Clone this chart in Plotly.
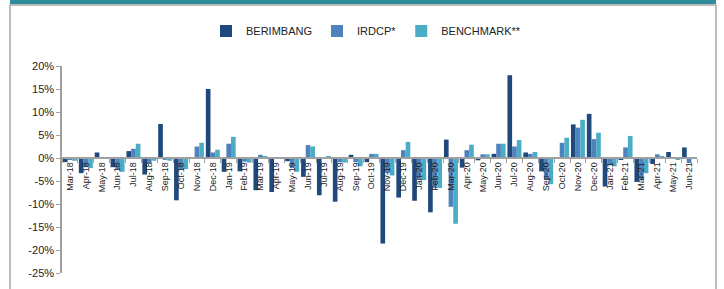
import plotly.graph_objects as go

months = ["Mar-18","Apr-18","May-18","Jun-18","Jul-18","Aug-18","Sep-18","Oct-18","Nov-18","Dec-18",
          "Jan-19","Feb-19","Mar-19","Apr-19","May-19","Jun-19","Jul-19","Aug-19","Sep-19","Oct-19",
          "Nov-19","Dec-19","Jan-20","Feb-20","Mar-20","Apr-20","May-20","Jun-20","Jul-20","Aug-20",
          "Sep-20","Oct-20","Nov-20","Dec-20","Jan-21","Feb-21","Mar-21","Apr-21","May-21","Jun-21"]

berimbang = [-0.9, -3.3, 1.2, -2.0, 1.5, -3.6, 7.4, -9.2, 0.2, 15.0,
             -3.0, -2.9, -7.0, -7.4, -0.7, -4.1, -8.1, -9.5, 0.7, -0.9,
             -18.6, -8.6, -9.3, -11.8, 4.0, -2.1, -0.5, 0.9, 18.0, 1.2,
             -2.9, 0.1, 7.3, 9.6, -6.2, -0.3, -5.2, -1.3, 1.3, 2.3]

irdcp = [-0.3, -2.0, 0.2, -2.5, 2.0, -1.1, -0.3, -2.5, 2.5, 1.2,
         3.1, -0.8, 0.7, -0.2, -2.2, 2.8, 0.2, -0.9, -0.9, 0.9,
         -3.3, 1.7, -4.5, -6.5, -10.6, 1.7, 0.8, 3.1, 2.5, 0.9,
         -4.6, 3.3, 6.6, 4.1, -1.6, 2.3, -4.6, 0.8, 0.1, -1.1]

benchmark = [-0.6, -2.2, 0.0, -3.0, 3.1, -0.6, -0.6, -2.4, 3.3, 1.8,
             4.6, -1.0, 0.4, -0.2, -3.0, 2.5, 0.4, -1.0, -1.8, 0.9,
             -3.8, 3.5, -4.8, -6.5, -14.3, 2.9, 0.8, 3.1, 3.9, 1.3,
             -5.7, 4.4, 8.3, 5.5, -1.8, 4.8, -3.3, 0.4, -0.4, 0.0]

series_names = ["BERIMBANG", "IRDCP*", "BENCHMARK**"]
series_colors = ["#1f487c", "#4f81bd", "#4bacc6"]

y_tickvals = [20, 15, 10, 5, 0, -5, -10, -15, -20, -25]
y_ticktext = ["20%", "15%", "10%", "5%", "0%", "-5%", "-10%", "-15%", "-20%", "-25%"]

fig = go.Figure()
for name, vals, col in zip(series_names, [berimbang, irdcp, benchmark], series_colors):
    fig.add_trace(go.Bar(x=months, y=vals, name=name, marker=dict(color=col, line=dict(width=0))))

ymin, ymax = -25, 20
W, H = 724, 289
L, R, T, B = 62, 27, 66, 16
pw, ph = W - L - R, H - T - B

def px_x(px):
    return (px - L) / pw

def px_y(py):
    return (H - B - py) / ph

fig.update_layout(
    width=W, height=H,
    margin=dict(l=L, r=R, t=T, b=B, autoexpand=False),
    paper_bgcolor="white", plot_bgcolor="white",
    barmode="group", bargap=0.12, bargroupgap=0.0,
    font=dict(family="Liberation Sans, Arial, sans-serif", color="#222222"),
    showlegend=True,
    legend=dict(orientation="h", xref="container", yref="container",
                x=206 / W, xanchor="left", y=1 - 31 / H, yanchor="middle",
                font=dict(size=11, color="#222222"), itemwidth=30, traceorder="normal",
                bgcolor="rgba(0,0,0,0)"),
    xaxis=dict(type="category", anchor="free", position=(0 - ymin) / (ymax - ymin),
               showline=True, linecolor="#a0a0a0", linewidth=1.5,
               ticks="outside", tickson="boundaries", ticklen=4, tickcolor="#a0a0a0",
               tickangle=-90, tickfont=dict(size=9, color="#222222"),
               showgrid=False, zeroline=False, automargin=False),
    yaxis=dict(range=[ymin, ymax], tickvals=y_tickvals, ticktext=y_ticktext,
               showline=True, linecolor="#a0a0a0", linewidth=1.5,
               ticks="outside", ticklen=4, tickcolor="#a0a0a0",
               tickfont=dict(size=11, color="#222222"),
               showgrid=False, zeroline=False, automargin=False),
)

# frame decorations
fig.add_shape(type="rect", xref="paper", yref="paper",
              x0=px_x(10), x1=px_x(716), y0=px_y(5), y1=px_y(300),
              line=dict(color="#a6a6a6", width=1.5), fillcolor="rgba(0,0,0,0)", layer="below")
fig.add_shape(type="rect", xref="paper", yref="paper",
              x0=px_x(10), x1=px_x(716), y0=px_y(0), y1=px_y(4),
              line=dict(width=0), fillcolor="#2f8a9c", layer="above")

fig.write_html("out.html", config={"displayModeBar": False},
               post_script="document.body.style.margin='0';document.body.style.padding='0';")
